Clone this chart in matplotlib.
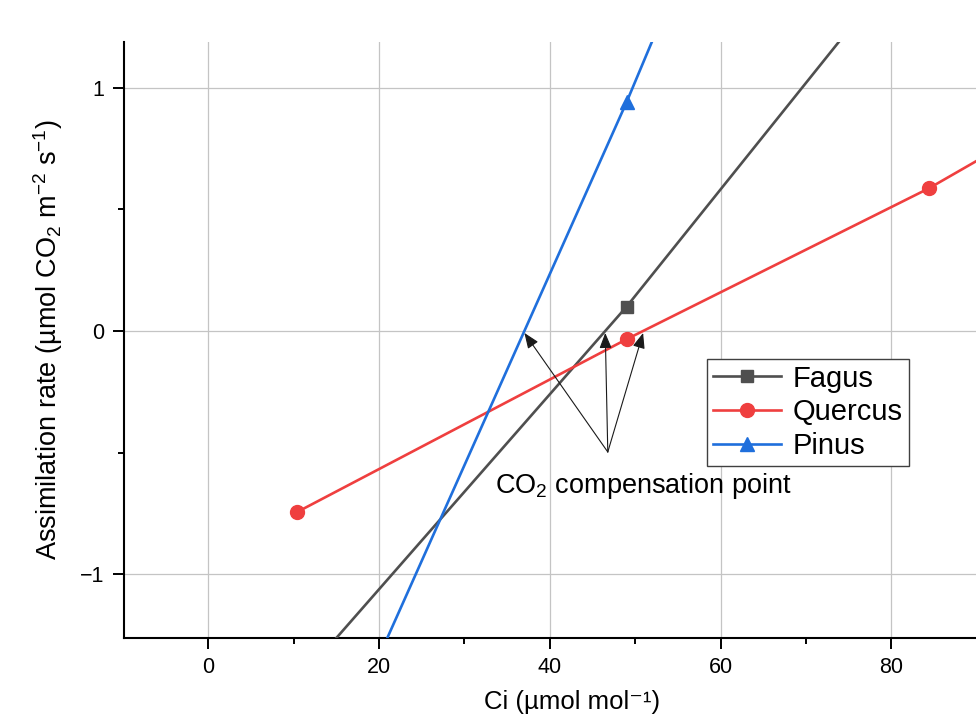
import numpy as np
import matplotlib
matplotlib.use("Agg")
import matplotlib.pyplot as plt

plt.rcParams["font.family"] = ["Liberation Sans", "DejaVu Sans"]
plt.rcParams["mathtext.default"] = "regular"

# Intercellular CO2 (Ci, µmol mol-1) and net assimilation (µmol CO2 m-2 s-1)
ci_fagus = [10.3, 49.0, 84.2]
a_fagus = [-1.45, 0.10, 1.64]

ci_quercus = [10.35, 49.05, 84.4, 100.0]
a_quercus = [-0.745, -0.033, 0.586, 0.90]

ci_pinus = [10.3, 49.0, 84.2]
a_pinus = [-2.10, 0.94, 3.88]

series_names = ["Fagus", "Quercus", "Pinus"]
series_colors = ["#4f4f4f", "#ef3f3f", "#1f6fdc"]
series_markers = ["s", "o", "^"]
series_msize = [9, 10, 10.5]

x_ticks = [0, 20, 40, 60, 80]
y_ticks = [-1, 0, 1]

x_min, x_max = -9.85, 95.0
px_per_unit = 8.54
fig_w, fig_h = 976, 725
ax_left = 124
ax_width = (x_max - x_min) * px_per_unit  # axes run past the right edge

fig = plt.figure(figsize=(fig_w / 100, fig_h / 100), dpi=100)
ax = fig.add_axes([ax_left / fig_w, 87.5 / fig_h, ax_width / fig_w, 595.5 / fig_h])

data = [(ci_fagus, a_fagus), (ci_quercus, a_quercus), (ci_pinus, a_pinus)]
for (x, y), name, c, m, ms in zip(data, series_names, series_colors,
                                  series_markers, series_msize):
    ax.plot(x, y, color=c, lw=1.9, marker=m, ms=ms, label=name, zorder=3)

ax.set_xlim(x_min, x_max)
ax.set_ylim(-1.259, 1.187)
ax.set_xticks(x_ticks)
ax.set_yticks(y_ticks)
ax.set_xticks([10, 30, 50, 70], minor=True)
ax.set_yticks([-0.5, 0.5], minor=True)
ax.grid(True, which="major", color="#c4c4c4", lw=0.9, zorder=0)
ax.set_axisbelow(True)

for side in ("top", "right"):
    ax.spines[side].set_visible(False)
for side in ("left", "bottom"):
    ax.spines[side].set_linewidth(1.5)

ax.tick_params(which="major", direction="out", length=8, width=1.4,
               labelsize=15.5, pad=6)
ax.tick_params(which="minor", direction="out", length=4, width=1.4)

ax.set_xlabel("Ci (µmol mol⁻¹)", fontsize=18.5, labelpad=9)
ax.set_ylabel("Assimilation rate (µmol CO$_2$ m$^{-2}$ s$^{-1}$)",
              fontsize=19.5, labelpad=11)

# CO2 compensation points: where each response crosses zero
origin = (46.8, -0.497)
for x, y in data:
    x0 = float(np.interp(0.0, y, x))
    ax.annotate("", xy=(x0, -0.008), xytext=origin,
                arrowprops=dict(arrowstyle="-|>,head_length=0.55,head_width=0.22",
                                color="#1a1a1a", lw=0.8,
                                mutation_scale=17, shrinkA=0, shrinkB=0))

ax.text(33.6, -0.665, "CO$_2$ compensation point", fontsize=19.5,
        ha="left", va="baseline")

leg = ax.legend(loc="upper left",
                bbox_to_anchor=((707 - ax_left) / ax_width, 0.468),
                borderaxespad=0, fontsize=21, frameon=True, fancybox=False,
                edgecolor="#404040", framealpha=1, handlelength=2.35,
                handletextpad=0.4, labelspacing=0.2, borderpad=0.2)
leg.get_frame().set_linewidth(1.0)

fig.savefig("out.png", dpi=100)
